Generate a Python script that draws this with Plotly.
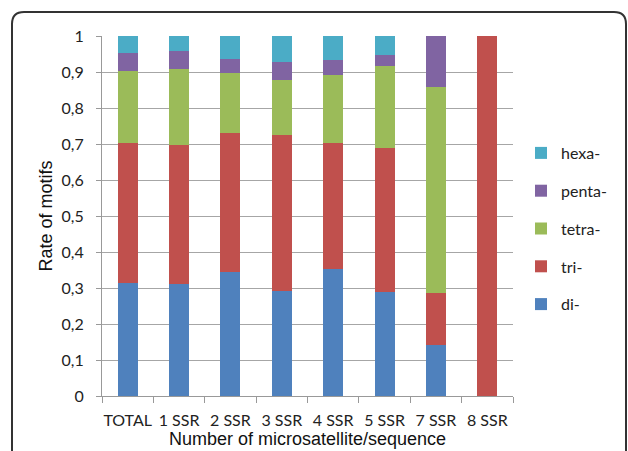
import plotly.graph_objects as go

categories = ["TOTAL", "1 SSR", "2 SSR", "3 SSR", "4 SSR", "5 SSR", "7 SSR", "8 SSR"]
di    = [0.314, 0.310, 0.344, 0.293, 0.352, 0.290, 0.143, 0.0]
tri   = [0.390, 0.387, 0.386, 0.431, 0.352, 0.400, 0.143, 1.0]
tetra = [0.198, 0.211, 0.166, 0.155, 0.188, 0.227, 0.571, 0.0]
penta = [0.050, 0.050, 0.040, 0.050, 0.041, 0.030, 0.143, 0.0]
hexa  = [0.048, 0.042, 0.064, 0.071, 0.067, 0.053, 0.0, 0.0]
y_ticks = [0, 0.1, 0.2, 0.3, 0.4, 0.5, 0.6, 0.7, 0.8, 0.9, 1]
y_tick_labels = ["0", "0,1", "0,2", "0,3", "0,4", "0,5", "0,6", "0,7", "0,8", "0,9", "1"]

series = [
    ("di-", di, "#4F81BD"),
    ("tri-", tri, "#C0504D"),
    ("tetra-", tetra, "#9BBB59"),
    ("penta-", penta, "#8064A2"),
    ("hexa-", hexa, "#4BACC6"),
]

fig = go.Figure()
n = len(series)
for i, (name, vals, col) in enumerate(series):
    fig.add_trace(go.Bar(x=categories, y=vals, name=name, marker_color=col,
                         marker_line_width=0, width=0.39, legendgroup=name,
                         legendrank=n - i))

W, H = 628, 451
L, R, T, B = 102, 115, 36, 55
pw, ph = W - L - R, H - T - B

def px(x):
    return (x - L) / pw

def py(y):
    return (H - B - y) / ph

# rounded frame
x0, x1, y0, y1 = 12, 626, 12, 470
r = 12
path = (
    f"M {px(x0)},{py(y1)} L {px(x0)},{py(y0 + r)} "
    f"Q {px(x0)},{py(y0)} {px(x0 + r)},{py(y0)} "
    f"L {px(x1 - r)},{py(y0)} Q {px(x1)},{py(y0)} {px(x1)},{py(y0 + r)} "
    f"L {px(x1)},{py(y1)}"
)

tickfont = dict(family="Lato, Liberation Sans", size=16, color="#222")
titlefont = dict(family="Liberation Sans, Arial", size=18, color="#111")

fig.update_layout(
    width=W, height=H,
    margin=dict(l=L, r=R, t=T, b=B),
    paper_bgcolor="white", plot_bgcolor="white",
    barmode="stack",
    showlegend=True,
    legend=dict(x=px(521), y=py(136), xanchor="left", yanchor="top",
                traceorder="grouped",
                font=dict(family="Lato, Liberation Sans", size=16, color="#222"),
                tracegroupgap=14, itemwidth=30, itemsizing="constant"),
    shapes=[dict(type="path", path=path, xref="paper", yref="paper",
                 line=dict(color="#333", width=2), layer="above")],
    xaxis=dict(
        type="category", tickson="boundaries", ticks="outside", ticklen=6,
        tickcolor="#999", showline=True, linecolor="#999", linewidth=1,
        tickangle=0, tickfont=tickfont, automargin=False,
        ticklabelstandoff=10,
        title=dict(text="Number of microsatellite/sequence", font=titlefont,
                   standoff=0),
        showgrid=False,
    ),
    yaxis=dict(
        range=[0, 1], tickvals=y_ticks, ticktext=y_tick_labels,
        ticks="outside", ticklen=5, tickcolor="#999",
        showline=True, linecolor="#999", linewidth=1,
        showgrid=True, gridcolor="#a6a6a6", gridwidth=1,
        tickfont=tickfont,
        ticklabelstandoff=9, automargin=False,
        title=dict(text="Rate of motifs", font=titlefont, standoff=4),
    ),
)

fig.write_html("out.html", config={"displayModeBar": False},
               post_script="document.body.style.margin='0';document.body.style.overflow='hidden';")
